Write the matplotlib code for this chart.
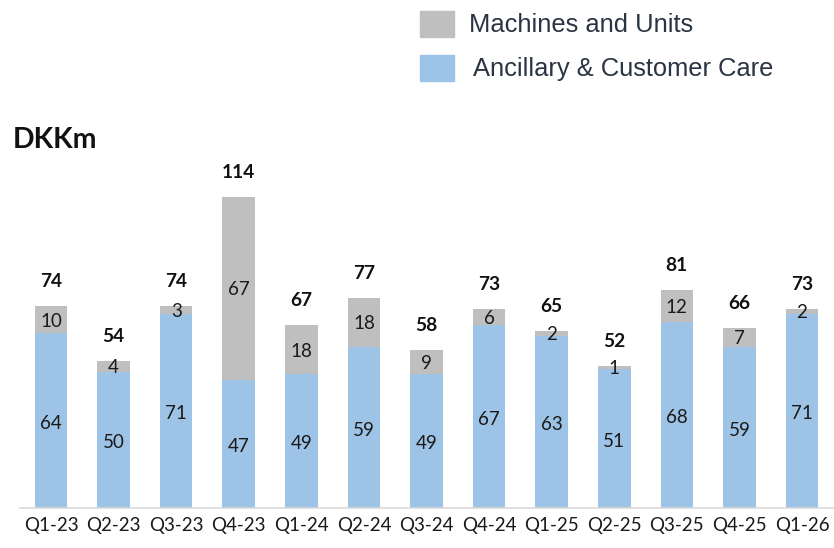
import numpy as np
import matplotlib
matplotlib.use('Agg')
import matplotlib.pyplot as plt
from matplotlib.patches import Rectangle

quarters = ['Q1-23', 'Q2-23', 'Q3-23', 'Q4-23', 'Q1-24', 'Q2-24', 'Q3-24',
            'Q4-24', 'Q1-25', 'Q2-25', 'Q3-25', 'Q4-25', 'Q1-26']
ancillary = [64, 50, 71, 47, 49, 59, 49, 67, 63, 51, 68, 59, 71]
machines = [10, 4, 3, 67, 18, 18, 9, 6, 2, 1, 12, 7, 2]
totals = [74, 54, 74, 114, 67, 77, 58, 73, 65, 52, 81, 66, 73]

BLUE = '#9dc3e6'
GREY = '#bfbfbf'
LBL_FONT = ['Lato', 'DejaVu Sans']

W, H = 834, 548
fig = plt.figure(figsize=(W / 100, H / 100), dpi=100)

# axes placed in pixel terms: baseline at y=508, 62.6 px per quarter
left_px, right_px = 19.7, 833.3
base_px, top_px = 508, 98.5
ax = fig.add_axes([left_px / W, (H - base_px) / H,
                   (right_px - left_px) / W, (base_px - top_px) / H])

x = np.arange(len(quarters))
ax.bar(x, ancillary, width=0.52, color=BLUE, zorder=2)
ax.bar(x, machines, width=0.52, bottom=ancillary, color=GREY, zorder=2)

for i in x:
    a, m = ancillary[i], machines[i]
    ax.annotate(str(a), (i, a / 2), xytext=(0, -2), textcoords='offset points',
                ha='center', va='center', fontsize=13.5,
                family=LBL_FONT, color='#1a1a1a', zorder=3)
    ax.annotate(str(m), (i, a + m / 2), xytext=(0, -1), textcoords='offset points',
                ha='center', va='center', fontsize=13.5,
                family=LBL_FONT, color='#1a1a1a', zorder=3)
    ax.annotate(str(totals[i]), (i, a + m), xytext=(0, 17.5),
                textcoords='offset points', ha='center', va='center',
                fontsize=13.8, fontweight='bold', family=LBL_FONT, color='#111111')

ax.set_xlim(-0.5, len(quarters) - 0.5)
ax.set_ylim(0, 150)
ax.set_yticks([])
ax.set_xticks(x)
ax.set_xticklabels(quarters, fontsize=13.5, family=LBL_FONT, color='#1a1a1a')
ax.tick_params(axis='x', length=0, pad=6.5)
for s in ['top', 'right', 'left']:
    ax.spines[s].set_visible(False)
ax.spines['bottom'].set_color('#d9d9d9')
ax.spines['bottom'].set_linewidth(1.2)

# unit label
fig.text(13 / W, 1 - 140 / H, 'DKKm', fontsize=20.5, fontweight='bold',
         family=LBL_FONT, va='center', ha='left', color='#111111')

# legend drawn by hand
leg = [('Machines and Units', GREY, 24, 469), ('Ancillary & Customer Care', BLUE, 68, 473)]
for name, col, yc, tx in leg:
    fig.patches.append(Rectangle((420 / W, 1 - (yc + 13) / H), 34 / W, 26 / H,
                                 transform=fig.transFigure, color=col))
    fig.text(tx / W, 1 - (yc + 1) / H, name, fontsize=18.4,
             family=['Liberation Sans', 'DejaVu Sans'],
             va='center', ha='left', color='#2b3442')

fig.savefig('out.png', dpi=100)
